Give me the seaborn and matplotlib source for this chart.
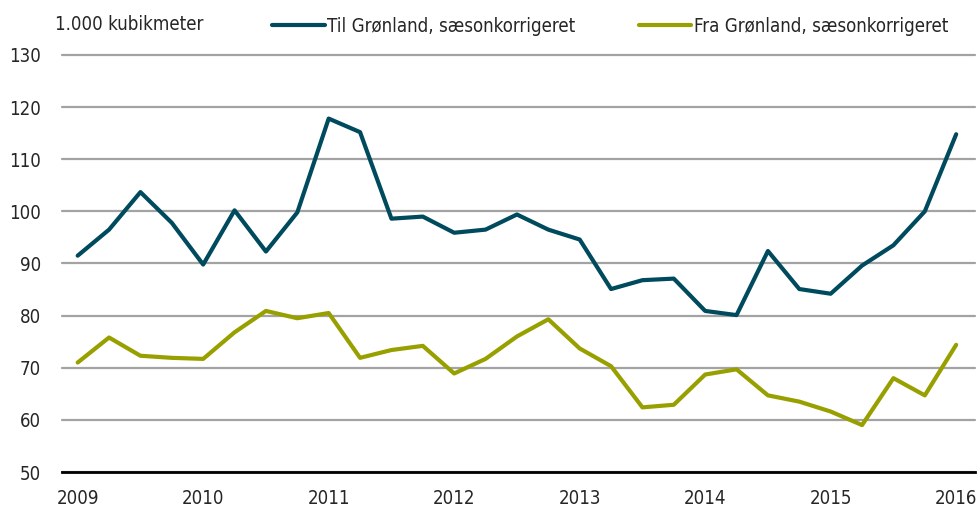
import numpy as np
import pandas as pd
import matplotlib
matplotlib.use('Agg')
import matplotlib.pyplot as plt
import seaborn as sns

# quarterly values, 2009Q1 - 2016Q1
quarters = [f'{y}Q{q}' for y in range(2009, 2017) for q in range(1, 5)][:29]
til = [91.5, 96.5, 103.7, 97.8, 89.8, 100.2, 92.3, 99.8,
       117.8, 115.2, 98.6, 99.0, 95.9, 96.5, 99.4, 96.5,
       94.6, 85.1, 86.8, 87.1, 80.9, 80.1, 92.4, 85.1,
       84.2, 89.6, 93.5, 100.0, 114.8]
fra = [71.0, 75.8, 72.3, 71.9, 71.7, 76.8, 80.9, 79.5,
       80.5, 71.9, 73.4, 74.2, 68.9, 71.7, 76.0, 79.3,
       73.7, 70.3, 62.4, 62.9, 68.7, 69.7, 64.7, 63.5,
       61.6, 59.0, 68.0, 64.7, 74.4]
year_labels = ['2009', '2010', '2011', '2012', '2013', '2014', '2015', '2016']
y_ticks = [50, 60, 70, 80, 90, 100, 110, 120, 130]

sns.set_style('white')
plt.rcParams['font.family'] = ['DejaVu Sans']
plt.rcParams['font.stretch'] = 'condensed'
fs = 13.4

df = pd.DataFrame({'idx': np.arange(len(quarters)),
                   'Til Grønland, sæsonkorrigeret': til,
                   'Fra Grønland, sæsonkorrigeret': fra})
long = df.melt(id_vars='idx', var_name='serie', value_name='val')

fig = plt.figure(figsize=(9.79, 5.08), dpi=100)
ax = fig.add_axes([62/979, 1 - 472/508, (975 - 62)/979, (472 - 55)/508])

sns.lineplot(data=long, x='idx', y='val', hue='serie',
             palette=['#004A5E', '#98A000'], linewidth=3, ax=ax)

ax.set_ylim(50, 130)
ax.set_xlim(-0.5, 28.6)
ax.set_yticks(y_ticks)
ax.set_yticklabels([str(v) for v in y_ticks], fontsize=fs)
ax.set_xticks(np.arange(0, 29, 4))
ax.set_xticklabels(year_labels, fontsize=fs)
ax.yaxis.grid(True, color='#A3A3A3', linewidth=1.6)
for gl in ax.get_ygridlines():
    gl.set_clip_on(False)
ax.set_axisbelow(True)
ax.tick_params(axis='y', length=0, pad=15)
ax.tick_params(axis='x', length=0, pad=12)
for s in ['top', 'right', 'left']:
    ax.spines[s].set_visible(False)
ax.spines['bottom'].set_color('black')
ax.spines['bottom'].set_linewidth(2)
ax.set_xlabel('')
ax.set_ylabel('')

fig.text(55/979, 1 - 25/508, '1.000 kubikmeter', fontsize=fs, va='center')
ax.legend(loc='center left', bbox_to_anchor=(203/913, 1 + 29/417), ncol=2,
          frameon=False, fontsize=fs, handlelength=2.8, handletextpad=0.15,
          columnspacing=3.4, borderaxespad=0)

fig.savefig('out.png', dpi=100)
